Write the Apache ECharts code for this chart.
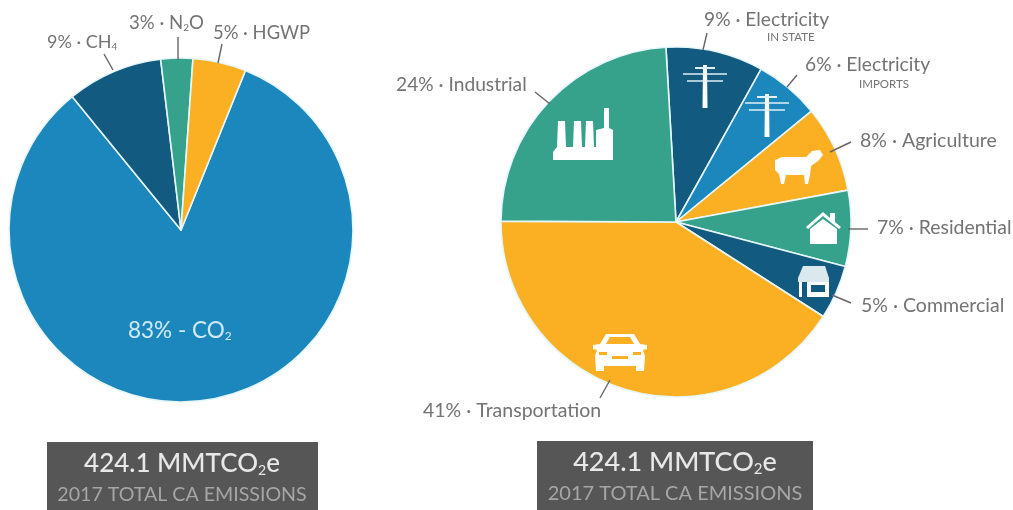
<!DOCTYPE html>
<html><head><meta charset="utf-8">
<style>html,body{margin:0;padding:0;background:#fff}#c{width:1013px;height:510px;filter:blur(0.7px)}</style>
<script src="https://cdn.jsdelivr.net/npm/echarts@6/dist/echarts.min.js"></script>
</head><body><div id="c"></div>
<script>
var gasNames=['CO2','CH4','N2O','HGWP'];
var gasValues=[83,9,3,5];
var gasColors=['#1c87bd','#135a80','#36a28c','#fbb024'];
var sectorNames=['Electricity in state','Electricity imports','Agriculture','Residential','Commercial','Transportation','Industrial'];
var sectorValues=[9,6,8,7,5,41,24];
var sectorColors=['#135a80','#1c87bd','#fbb024','#36a28c','#135a80','#fbb024','#36a28c'];
var boxTitle='{a|424.1 MMTCO}{s|2}{a|e}';
var boxSub='2017 TOTAL CA EMISSIONS';
var FONT='Lato';
var GREY='#737373';

function toData(n,v,c){return n.map(function(x,i){return {name:x,value:v[i],itemStyle:{color:c[i]}};});}
function pie(center,r,start,data){return {type:'pie',center:center,radius:[0,r],startAngle:start,clockwise:true,silent:true,animation:false,
  label:{show:false},labelLine:{show:false},data:data,itemStyle:{borderColor:'#e6f7fb',borderWidth:1.6}};}

var g=[];
function txt(x,y,text,size,color,align,weight){
  g.push({type:'text',z:10,x:x,y:y,style:{text:text,fontFamily:FONT,fontSize:size,fontWeight:weight||400,fill:color||GREY,align:align||'left',verticalAlign:'middle',
    rich:{a:{fontFamily:FONT,fontSize:size,fill:color||GREY,fontWeight:weight||400},
          s:{fontFamily:FONT,fontSize:Math.round(size*0.55),fill:color||GREY,verticalAlign:'bottom',padding:[Math.round(size*0.5),0,0,0]}}}});
}
function line(a,b,c,d,color,w){g.push({type:'line',z:9,shape:{x1:a,y1:b,x2:c,y2:d},style:{stroke:color||'#666',lineWidth:w||1.4}});}
function rect(x,y,w,h,fill,r){g.push({type:'rect',z:8,shape:{x:x,y:y,width:w,height:h,r:r||0},style:{fill:fill||'#fff'}});}
function poly(pts,fill){g.push({type:'polygon',z:8,shape:{points:pts},style:{fill:fill||'#fff'}});}

// label texts
txt(47,42,'{a|9% · CH}{s|4}',18);
txt(129,23,'{a|3% · N}{s|2}{a|O}',18.6);
txt(213,33,'5% · HGWP',18.4);
txt(128,331,'{a|83% - CO}{s|2}',22.5,'#cfeaf5');
txt(396,85,'24% · Industrial',19.2);
txt(704,20,'9% · Electricity',19.2);
txt(767,37,'IN STATE',11.5);
txt(805,65,'6% · Electricity',19.2);
txt(859,84,'IMPORTS',11.5);
txt(860,141,'8% · Agriculture',19.5);
txt(877,228,'7% · Residential',19.4);
txt(861,306,'5% · Commercial',19.5);
txt(423,411,'41% · Transportation',19.5);

// leaders
[[104,54,113,70],[178,37,178,60],[222,44,218,63],[707,33,703,50],[797,75,787,87],[851,142,830,152],[868,229,848,229],[851,303,832,295],[600,398,610,380],[535,92,550,104]]
.forEach(function(l){line(l[0],l[1],l[2],l[3]);});

// boxes
rect(47,442,271,68,'#565656');
rect(537,441,276,69,'#565656');
txt(182,464,boxTitle,26,'#e8e8e8','center',500);
txt(182,495,boxSub,19.6,'#a6a6a6','center');
txt(675,462,boxTitle,27,'#e8e8e8','center',500);
txt(675,494,boxSub,20,'#a6a6a6','center');

// icons
function tower(x,y){
  poly([[x-2,y],[x+2,y],[x+2.5,y+43],[x-2.5,y+43]]);
  line(x-22,y+9,x+22,y+9,'#dff1f6',1.5);
  line(x-18,y+16,x+18,y+16,'#dff1f6',1.5);
  line(x-10,y+3,x+10,y+3,'#dff1f6',2);
}
tower(705,65);tower(767,94);
// factory
poly([[553,160],[553,152],[557,147],[558,121],[565,121],[566,147],[573,147],[574,121],[581,121],[582,147],[585,147],[586,121],[593,121],[594,147],[596,147],[596,130],[604,128],[604,108],[609,108],[609,128],[613,130],[613,160]]);
// cow
poly([[775,160],[782,157],[806,157],[812,151],[820,150],[823,155],[818,161],[811,166],[810,175],[808,184],[805,184],[804,175],[786,175],[784,184],[781,184],[779,174],[775,170]]);
// house
poly([[806,227],[823,212],[830,218],[830,213],[835,213],[835,222],[841,227],[839,229],[823,216],[808,229]]);
poly([[810,229],[823,219],[837,229],[837,244],[810,244]]);
// shop
poly([[798,278],[803,266],[825,266],[829,278],[829,282],[798,282]],'#dbe9ee');
rect(799,282,3,15);rect(807,282,22,15);rect(811,285,14,7,'#135a80');
// car
poly([[593,345],[600,344],[606,334],[634,334],[640,344],[647,345],[647,349],[643,350],[645,356],[644,371],[636,371],[636,366],[604,366],[604,371],[596,371],[595,356],[597,350],[593,349]]);
poly([[606,344],[610,337],[630,337],[634,344]],'#fbb024');
rect(599,352,8,3,'#fbb024');rect(633,352,8,3,'#fbb024');rect(612,356,16,3,'#fbb024');

var chart=echarts.init(document.getElementById('c'),null,{renderer:'canvas'});
chart.setOption({animation:false,backgroundColor:'#fff',
  series:[pie([181,230],172,68,toData(gasNames,gasValues,gasColors)),
          pie([676,222],175,93.3,toData(sectorNames,sectorValues,sectorColors))],
  graphic:{elements:g}});
</script></body></html>
